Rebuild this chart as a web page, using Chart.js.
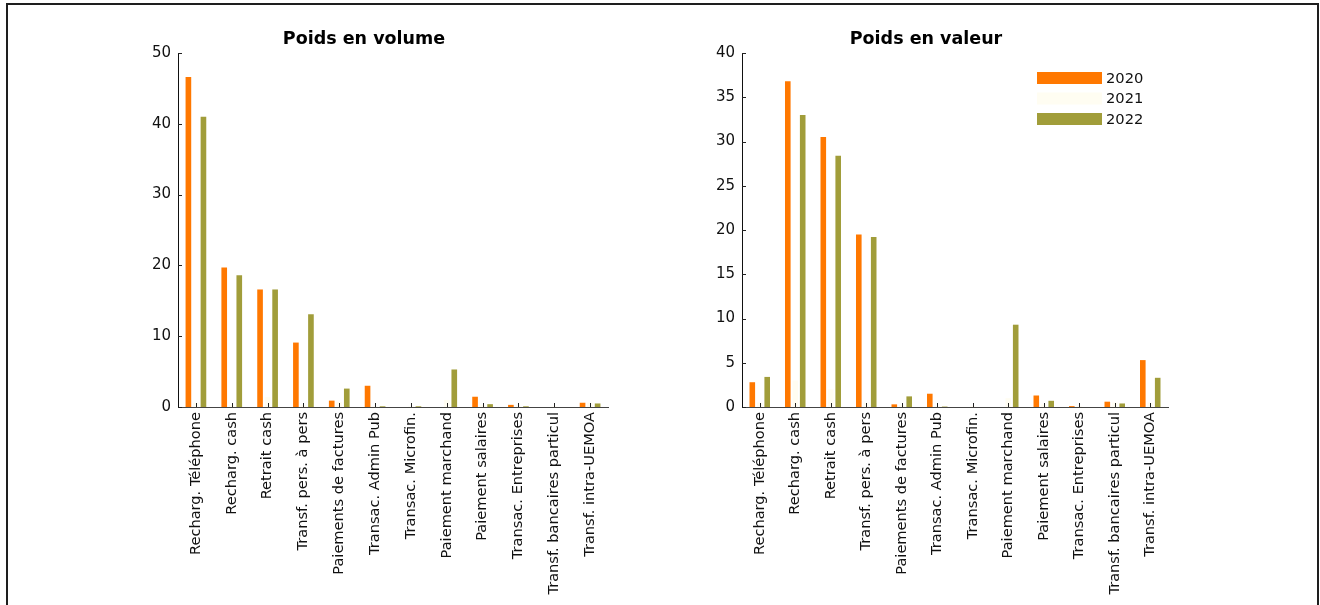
<!DOCTYPE html>
<html>
<head>
<meta charset="utf-8">
<script src="https://cdn.jsdelivr.net/npm/chart.js@4.4.0/dist/chart.umd.min.js"></script>
<style>
    html, body { margin: 0; padding: 0; background: #fff; }
    body { width: 1320px; height: 605px; position: relative; overflow: hidden; }
    .frame { position: absolute; left: 6px; top: 3px; width: 1313px; height: 700px; border: 2.5px solid #1e1e1e; box-sizing: border-box; }
    .box { position: absolute; top: 20px; }
</style>
</head>
<body>
<div class="frame"></div>
<div class="box" style="left:120px"><canvas id="chart-volume" width="546" height="580"></canvas></div>
<div class="box" style="left:684px"><canvas id="chart-valeur" width="542" height="580"></canvas></div>

<script>
// ── Data ──────────────────────────────────────────
const categories = [
    'Recharg. Téléphone', 'Recharg. cash', 'Retrait cash', 'Transf. pers. à pers',
    'Paiements de factures', 'Transac. Admin Pub', 'Transac. Microfin.', 'Paiement marchand',
    'Paiement salaires', 'Transac. Entreprises', 'Transf. bancaires particul', 'Transf. intra-UEMOA'
];
const years = ['2020', '2021', '2022'];

const volume2020 = [46.6, 19.7, 16.6, 9.1, 0.9, 3.0, 0.0, 0.0, 1.45, 0.3, 0.0, 0.6];
const volume2021 = [0.6, 0.3, 1.4, 0.3, 0.7, 0.1, 0.1, 1.0, 0.3, 0.1, 0.1, 0.6];
const volume2022 = [41.0, 18.6, 16.6, 13.1, 2.6, 0.1, 0.1, 5.3, 0.4, 0.1, 0.0, 0.5];

const valeur2020 = [2.8, 36.8, 30.5, 19.5, 0.3, 1.5, 0.0, 0.0, 1.3, 0.1, 0.6, 5.3];
const valeur2021 = [0.5, 3.0, 2.0, 0.5, 0.2, 0.1, 0.1, 1.0, 0.3, 0.1, 0.5, 0.5];
const valeur2022 = [3.4, 33.0, 28.4, 19.2, 1.2, 0.05, 0.0, 9.3, 0.7, 0.0, 0.4, 3.3];

const volumeTicks = [0, 10, 20, 30, 40, 50];
const valeurTicks = [0, 5, 10, 15, 20, 25, 30, 35, 40];

const colors = ['#ff7800', '#fffdf2', '#a19d3a'];

// inward ticks, like the original figure
const innerTicks = {
    id: 'innerTicks',
    afterDatasetsDraw(chart) {
        const { ctx, chartArea, scales } = chart;
        ctx.save();
        ctx.strokeStyle = '#222';
        ctx.lineWidth = 1;
        ctx.beginPath();
        scales.y.ticks.forEach((t, i) => {
            const y = Math.round(scales.y.getPixelForTick(i)) + 0.5;
            ctx.moveTo(chartArea.left, y);
            ctx.lineTo(chartArea.left + 4, y);
        });
        scales.x.ticks.forEach((t, i) => {
            const x = Math.round(scales.x.getPixelForTick(i)) + 0.5;
            ctx.moveTo(x, chartArea.bottom);
            ctx.lineTo(x, chartArea.bottom - 4);
        });
        ctx.stroke();
        ctx.restore();
    }
};

// legend box in the top-right corner of the plot
const boxLegend = {
    id: 'boxLegend',
    afterDraw(chart, args, opts) {
        if (!opts.show) return;
        const { ctx, chartArea } = chart;
        const x0 = chartArea.right - 131, y0 = chartArea.top + 25;
        ctx.save();
        ctx.font = '14.7px "DejaVu Sans"';
        ctx.textBaseline = 'middle';
        chart.data.datasets.forEach((ds, i) => {
            const y = y0 + i * 20.5;
            ctx.fillStyle = ds.backgroundColor;
            ctx.fillRect(x0, y - 6, 65, 12);
            ctx.fillStyle = '#111';
            ctx.fillText(ds.label, x0 + 69, y + 1);
        });
        ctx.restore();
    }
};

function makeChart(id, title, series, ticks, showLegend) {
    const ctx = document.getElementById(id).getContext('2d');
    return new Chart(ctx, {
        type: 'bar',
        data: {
            labels: categories,
            datasets: series.map((data, i) => ({
                label: years[i],
                data,
                backgroundColor: colors[i],
                categoryPercentage: 0.63,
                barPercentage: 0.75
            }))
        },
        options: {
            responsive: false,
            animation: false,
            layout: { padding: { left: 0, right: 58, top: 0, bottom: 0 } },
            plugins: {
                legend: { display: false },
                tooltip: { enabled: false },
                title: {
                    display: true, text: title, color: '#000',
                    font: { family: 'DejaVu Sans', size: 17.5, weight: 'bold', lineHeight: 1.2 },
                    padding: { top: 8.5, bottom: 3.5 }
                },
                boxLegend: { show: showLegend }
            },
            scales: {
                x: {
                    grid: { display: false, drawTicks: false },
                    border: { display: true, color: '#444' },
                    ticks: {
                        autoSkip: false, minRotation: 90, maxRotation: 90, padding: 5,
                        color: '#111', font: { family: 'DejaVu Sans', size: 14.6 }
                    },
                    afterFit: s => { s.height = 193; }
                },
                y: {
                    min: ticks[0], max: ticks[ticks.length - 1],
                    afterBuildTicks: s => { s.ticks = ticks.map(v => ({ value: v })); },
                    grid: { display: false, drawTicks: false },
                    border: { display: true, color: '#111' },
                    ticks: { padding: 7, color: '#111', font: { family: 'DejaVu Sans', size: 15 } },
                    afterFit: s => { s.width = 58; }
                }
            }
        },
        plugins: [innerTicks, boxLegend]
    });
}

makeChart('chart-volume', 'Poids en volume', [volume2020, volume2021, volume2022], volumeTicks, false);
makeChart('chart-valeur', 'Poids en valeur', [valeur2020, valeur2021, valeur2022], valeurTicks, true);
</script>
</body>
</html>
